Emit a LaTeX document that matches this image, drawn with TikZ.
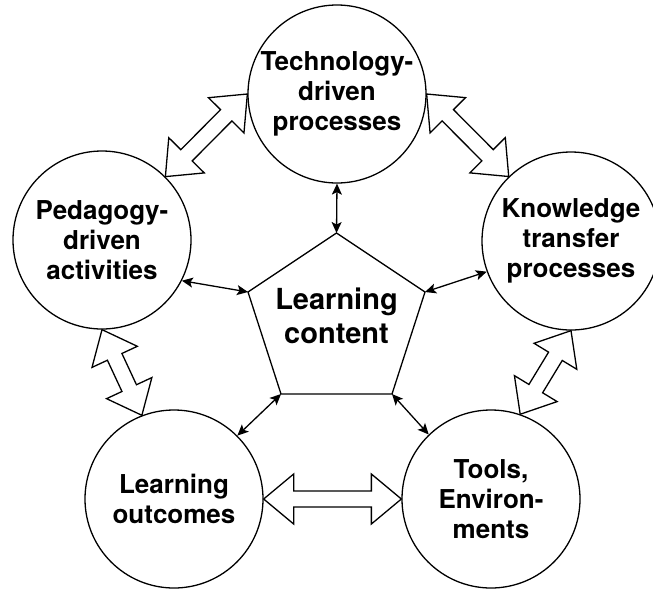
\documentclass[tikz,border=0pt]{standalone}
\usepackage{fontspec}
\setmainfont{TeX Gyre Heros}
\usetikzlibrary{arrows.meta,calc}

\tikzset{
  topic/.style={draw, circle, line width=1.3pt, minimum size=178pt, inner sep=0pt,
    align=center, font=\fontsize{26}{30}\selectfont\bfseries},
  core/.style={align=center, font=\fontsize{29}{34}\selectfont\bfseries},
  link/.style={line width=1.3pt,
    {Stealth[length=11pt,width=10pt,inset=2.5pt]}-{Stealth[length=11pt,width=10pt,inset=2.5pt]}},
  fatbody/.style={draw, line width=1.3pt, fill=white, line join=miter}
}

\newcommand{\fatarrow}[2]{%
  \draw[fatbody] (#1)
    -- ($(#1)!30pt!(#2)!25pt!90:(#2)$)
    -- ($(#1)!30pt!(#2)!8pt!90:(#2)$)
    -- ($(#2)!30pt!(#1)!8pt!-90:(#1)$)
    -- ($(#2)!30pt!(#1)!25pt!-90:(#1)$)
    -- (#2)
    -- ($(#2)!30pt!(#1)!25pt!90:(#1)$)
    -- ($(#2)!30pt!(#1)!8pt!90:(#1)$)
    -- ($(#1)!30pt!(#2)!8pt!-90:(#2)$)
    -- ($(#1)!30pt!(#2)!25pt!-90:(#2)$)
    -- cycle;}

\begin{document}
\begin{tikzpicture}[x=1pt,y=-1pt]
    \useasboundingbox (0,0) rectangle (653,590);

    \node[topic] (tech) at (337,94) {Technology-\\driven\\processes};
    \node[topic] (ped) at (102,240) {Pedagogy-\\driven\\activities};
    \node[topic] (know) at (571,241) {Knowledge\\transfer\\processes};
    \node[topic] (lo) at (174,499) {Learning\\outcomes};
    \node[topic] (tools) at (491,499) {Tools,\\Environ-\\ments};

    \coordinate (p1) at (336.5,233);
    \coordinate (p2) at (248,292);
    \coordinate (p3) at (281,394);
    \coordinate (p4) at (392,394);
    \coordinate (p5) at (425,292);
    \draw[line width=1.3pt, line join=miter] (p1) -- (p2) -- (p3) -- (p4) -- (p5) -- cycle;
    \node[core] (lc) at (336.5,316) {Learning\\content};

    \draw[link] (tech.270) -- (p1);
    \draw[link] (ped.-27) -- (p2);
    \draw[link] (know.200) -- (p5);
    \draw[link] (lo.45) -- (p3);
    \draw[link] (tools.134) -- (p4);

    \fatarrow{ped.45}{tech.180}
    \fatarrow{tech.0}{know.134}
    \fatarrow{ped.270}{lo.111}
    \fatarrow{know.270}{tools.71}
    \fatarrow{lo.0}{tools.180}

\end{tikzpicture}
\end{document}
